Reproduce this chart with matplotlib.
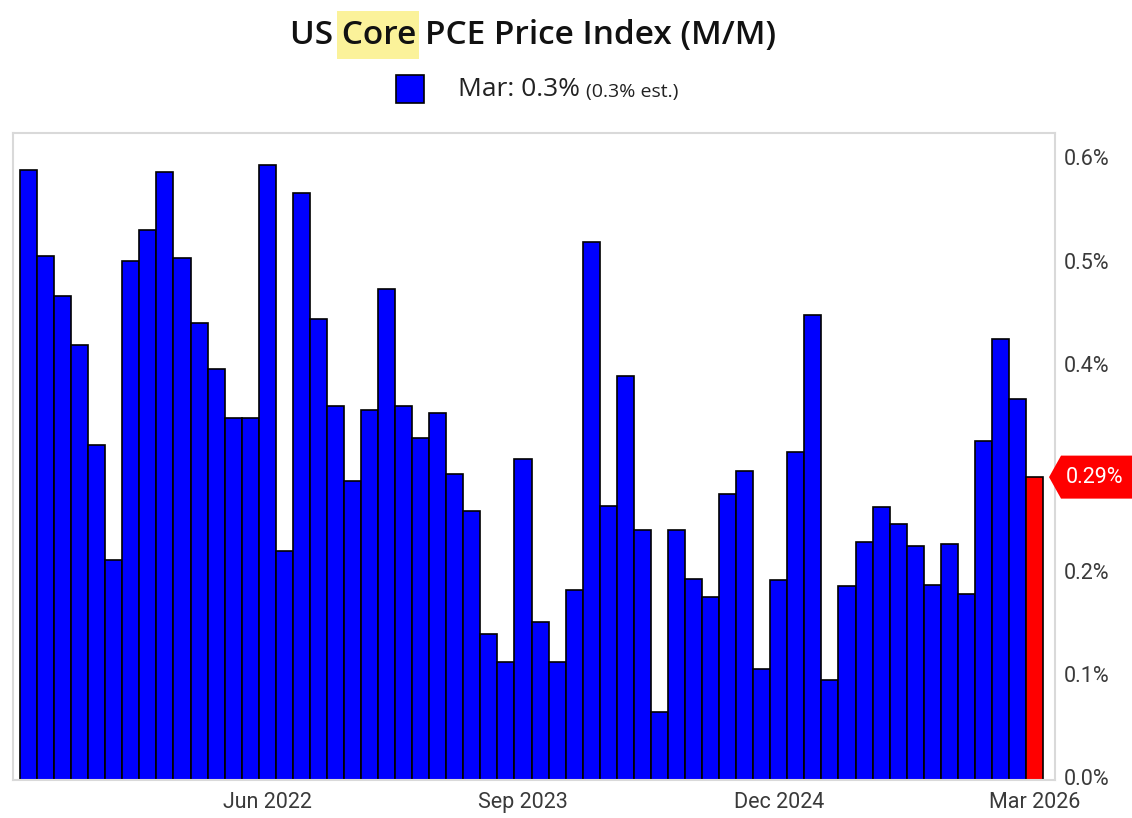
import numpy as np
import matplotlib
matplotlib.use("Agg")
import matplotlib.pyplot as plt
from matplotlib.patches import Rectangle, Polygon

# monthly core PCE m/m change, Apr 2021 .. Mar 2026 (%)
months = ["Apr 2021", "May 2021", "Jun 2021", "Jul 2021", "Aug 2021", "Sep 2021",
          "Oct 2021", "Nov 2021", "Dec 2021", "Jan 2022", "Feb 2022", "Mar 2022",
          "Apr 2022", "May 2022", "Jun 2022", "Jul 2022", "Aug 2022", "Sep 2022",
          "Oct 2022", "Nov 2022", "Dec 2022", "Jan 2023", "Feb 2023", "Mar 2023",
          "Apr 2023", "May 2023", "Jun 2023", "Jul 2023", "Aug 2023", "Sep 2023",
          "Oct 2023", "Nov 2023", "Dec 2023", "Jan 2024", "Feb 2024", "Mar 2024",
          "Apr 2024", "May 2024", "Jun 2024", "Jul 2024", "Aug 2024", "Sep 2024",
          "Oct 2024", "Nov 2024", "Dec 2024", "Jan 2025", "Feb 2025", "Mar 2025",
          "Apr 2025", "May 2025", "Jun 2025", "Jul 2025", "Aug 2025", "Sep 2025",
          "Oct 2025", "Nov 2025", "Dec 2025", "Jan 2026", "Feb 2026", "Mar 2026"]
values = [0.59, 0.507, 0.468, 0.421, 0.324, 0.213, 0.502, 0.532, 0.588, 0.505,
          0.442, 0.398, 0.350, 0.350, 0.595, 0.222, 0.568, 0.446, 0.362, 0.289,
          0.358, 0.475, 0.362, 0.331, 0.355, 0.296, 0.260, 0.141, 0.114, 0.311,
          0.153, 0.114, 0.184, 0.520, 0.265, 0.391, 0.242, 0.066, 0.242, 0.194,
          0.177, 0.277, 0.299, 0.107, 0.193, 0.317, 0.450, 0.097, 0.188, 0.230,
          0.264, 0.248, 0.226, 0.189, 0.228, 0.180, 0.328, 0.427, 0.369, 0.293]
tick_months = ["Jun 2022", "Sep 2023", "Dec 2024", "Mar 2026"]
yticks = [0.0, 0.1, 0.2, 0.3, 0.4, 0.5, 0.6]
ytick_labels = ["0.0%", "0.1%", "0.2%", "", "0.4%", "0.5%", "0.6%"]

fig = plt.figure(figsize=(11.32, 8.18), dpi=100)
ax = fig.add_axes([0.0115, 0.0465, 0.9205, 0.791])

x = np.arange(len(values))
colors = ["#0000ff"] * (len(values) - 1) + ["#ff0000"]
ax.bar(x, values, width=1.0, color=colors, edgecolor="black", linewidth=1.2, zorder=2)

ax.set_xlim(-0.91, 60.2)
ax.set_ylim(0, 0.626)

ax.yaxis.tick_right()
ax.set_yticks(yticks)
ax.set_yticklabels(ytick_labels)
ax.set_xticks([months.index(m) for m in tick_months])
ax.set_xticklabels(tick_months)
ax.tick_params(axis="both", length=0, labelsize=15.5, labelcolor="#3a3a3a")
ax.tick_params(axis="x", pad=9)
ax.tick_params(axis="y", pad=6)
for lab in ax.get_xticklabels() + ax.get_yticklabels():
    lab.set_fontfamily("Roboto")
for lab in ax.get_yticklabels():
    lab.set_verticalalignment("center")
for s in ax.spines.values():
    s.set_color("#d9d9d9")
    s.set_linewidth(1.5)

# last value tag (built in pixels from the data value)
W, H = fig.bbox.width, fig.bbox.height
yv = ax.transData.transform((0, values[-1]))[1]
xs = ax.transAxes.transform((1, 0))[0]
hh = 21.5
tag = Polygon([(xs - 6, yv), (xs + 6, yv + hh), (W, yv + hh), (W, yv - hh), (xs + 6, yv - hh)],
              closed=True, transform=None, facecolor="#ff0000", edgecolor="none")
fig.patches.append(tag)
fig.text((xs + 11) / W, yv / H, f"{values[-1]:.2f}%", ha="left", va="center",
         color="white", fontsize=15.5, fontfamily="Roboto")

# title with highlighted "Core"
tx, ty = 0.471, 0.957
tfont = dict(fontsize=24, fontweight="semibold", fontfamily="Open Sans")
title = fig.text(tx, ty, "US Core PCE Price Index (M/M)", ha="center", va="center",
                 color="#111111", **tfont)
fig.canvas.draw()
r = fig.canvas.get_renderer()
bb = title.get_window_extent(r)
tmp = fig.text(0, 0, "US ", **tfont)
w_pre = tmp.get_window_extent(r).width
tmp.set_text("US Core")
w_core = tmp.get_window_extent(r).width
tmp.remove()
x0 = (bb.x0 + w_pre - 5) / W
x1 = (bb.x0 + w_core + 3) / W
fig.patches.append(Rectangle((x0, ty - 0.029), x1 - x0, 0.058, transform=fig.transFigure,
                             facecolor="#fbf29a", edgecolor="none", zorder=-1))

# legend
fig.patches.append(Rectangle((396 / W, 1 - 103 / H), 28 / W, 28 / H, transform=fig.transFigure,
                             facecolor="#0000ff", edgecolor="black", linewidth=1.2))
t1 = fig.text(458 / W, 1 - 90 / H, "Mar: 0.3%", ha="left", va="center", fontsize=19,
              fontfamily="Open Sans", color="#222222")
fig.canvas.draw()
e1 = t1.get_window_extent(r)
fig.text(e1.x1 / W + 0.005, 1 - 92 / H, "(0.3% est.)", ha="left", va="center", fontsize=14,
         fontfamily="Open Sans", color="#222222")

plt.savefig("out.png", dpi=100)
